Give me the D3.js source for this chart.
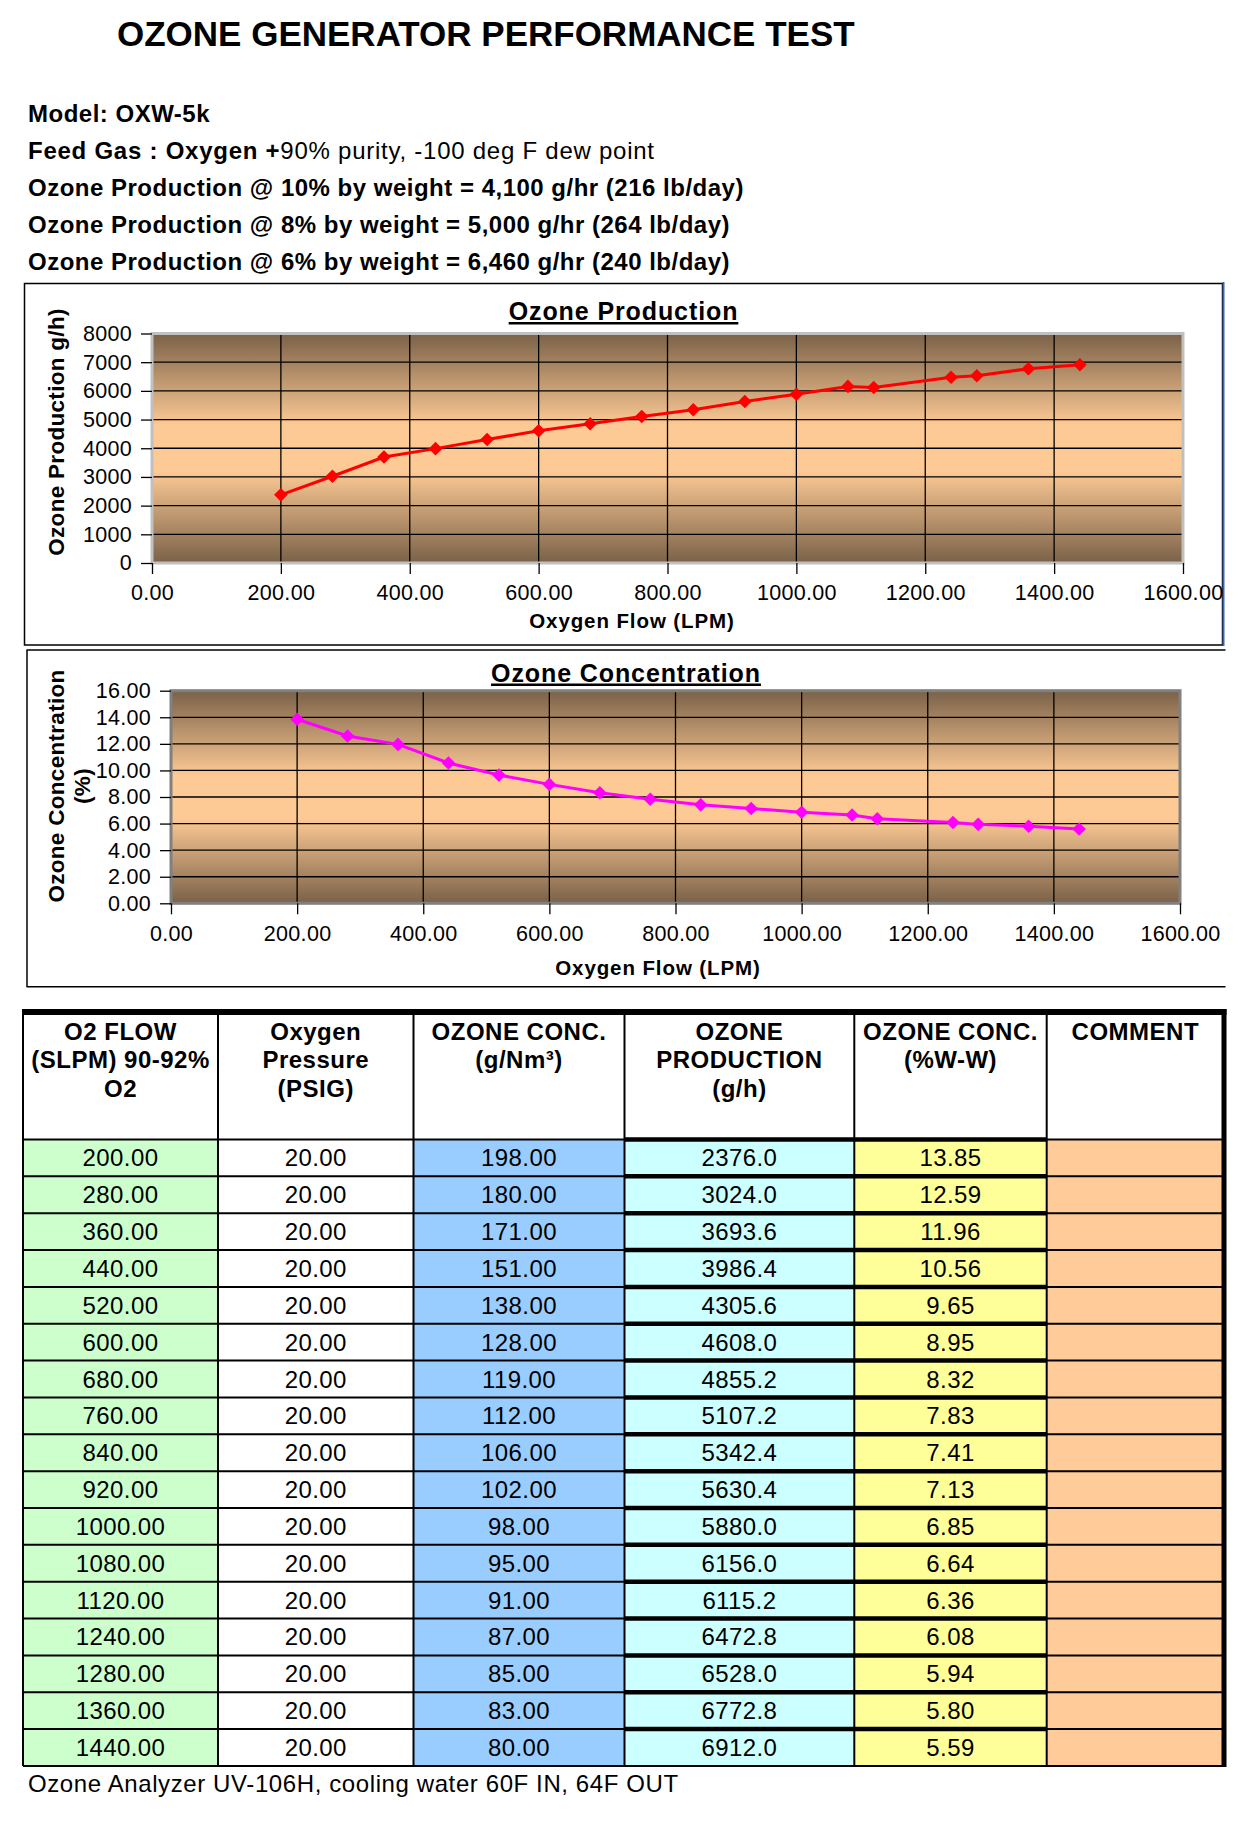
<!DOCTYPE html>
<html><head><meta charset="utf-8">
<script src="https://cdn.jsdelivr.net/npm/d3@7"></script>
<style>
html,body{margin:0;padding:0;background:#fff;}
svg{display:block;}
text{font-family:"Liberation Sans",Arial,sans-serif;fill:#000;}
</style></head><body>
<svg id="c" width="1239" height="1831"></svg>
<script>
// ---------------- DATA ----------------
const mainTitle = "OZONE GENERATOR PERFORMANCE TEST";
const infoLines = [
  [["Model: OXW-5k", "bold"]],
  [["Feed Gas : Oxygen +", "bold"], ["90% purity, -100 deg F dew point", "normal"]],
  [["Ozone Production @ 10% by weight = 4,100 g/hr (216 lb/day)", "bold"]],
  [["Ozone Production @ 8% by weight = 5,000 g/hr (264 lb/day)", "bold"]],
  [["Ozone Production @ 6% by weight = 6,460 g/hr (240 lb/day)", "bold"]]
];
const footerText = "Ozone Analyzer UV-106H, cooling water 60F IN, 64F OUT";

const flow       = [200, 280, 360, 440, 520, 600, 680, 760, 840, 920, 1000, 1080, 1120, 1240, 1280, 1360, 1440];
const pressure   = [20, 20, 20, 20, 20, 20, 20, 20, 20, 20, 20, 20, 20, 20, 20, 20, 20];
const concGNm3   = [198, 180, 171, 151, 138, 128, 119, 112, 106, 102, 98, 95, 91, 87, 85, 83, 80];
const production = [2376.0, 3024.0, 3693.6, 3986.4, 4305.6, 4608.0, 4855.2, 5107.2, 5342.4, 5630.4, 5880.0, 6156.0, 6115.2, 6472.8, 6528.0, 6772.8, 6912.0];
const concPct    = [13.85, 12.59, 11.96, 10.56, 9.65, 8.95, 8.32, 7.83, 7.41, 7.13, 6.85, 6.64, 6.36, 6.08, 5.94, 5.80, 5.59];
const comments   = ["", "", "", "", "", "", "", "", "", "", "", "", "", "", "", "", ""];

const xTicks     = [0, 200, 400, 600, 800, 1000, 1200, 1400, 1600];
const prodTicks  = [0, 1000, 2000, 3000, 4000, 5000, 6000, 7000, 8000];
const pctTicks   = [0, 2, 4, 6, 8, 10, 12, 14, 16];

const chart1Title = "Ozone Production";
const chart1YTitle = ["Ozone Production g/h)"];
const chart2Title = "Ozone Concentration";
const chart2YTitle = ["Ozone Concentration", "(%)"];
const xTitle = "Oxygen Flow (LPM)";

const tableHeaders = [
  ["O2 FLOW", "(SLPM) 90-92%", "O2"],
  ["Oxygen", "Pressure", "(PSIG)"],
  ["OZONE CONC.", "(g/Nm³)"],
  ["OZONE", "PRODUCTION", "(g/h)"],
  ["OZONE CONC.", "(%W-W)"],
  ["COMMENT"]
];

// ---------------- DRAW ----------------
const svg = d3.select("#c");
svg.append("rect").attr("width", 1239).attr("height", 1831).attr("fill", "#fff");
const defs = svg.append("defs");
const grad = defs.append("linearGradient").attr("id", "plotbg")
  .attr("x1", 0).attr("y1", 0).attr("x2", 0).attr("y2", 1);
[[0, "#7a6148"], [0.4, "#fdca95"], [0.6, "#fdca95"], [1, "#7a6148"]]
  .forEach(([o, c]) => grad.append("stop").attr("offset", o).attr("stop-color", c));

// Title
svg.append("text").attr("x", 117).attr("y", 46)
  .attr("font-size", 35).attr("font-weight", "bold").text(mainTitle);

// Info lines
infoLines.forEach((parts, i) => {
  const t = svg.append("text").attr("x", 28).attr("y", 121.5 + 37 * i)
    .attr("font-size", 24).attr("letter-spacing", i === 1 ? 0.75 : 0.5);
  parts.forEach(([s, w]) => t.append("tspan").attr("font-weight", w).text(s));
});

// Chart boxes
svg.append("rect").attr("x", 24.5).attr("y", 283.5).attr("width", 1198).attr("height", 361.5)
  .attr("fill", "none").attr("stroke", "#000").attr("stroke-width", 1.5);
svg.append("line").attr("x1", 1223.5).attr("x2", 1223.5).attr("y1", 282).attr("y2", 646)
  .attr("stroke", "#3b64b0").attr("stroke-width", 2);
[650, 986.7].forEach(yy => svg.append("line").attr("x1", 26.5).attr("x2", 1225.5)
  .attr("y1", yy).attr("y2", yy).attr("stroke", "#000").attr("stroke-width", 1.5));
svg.append("line").attr("x1", 27).attr("x2", 27).attr("y1", 650).attr("y2", 986.7)
  .attr("stroke", "#000").attr("stroke-width", 1.5);

function drawChart(o) {
  const x = d3.scaleLinear().domain([0, 1600]).range([o.x0, o.x1]);
  const y = d3.scaleLinear().domain([0, o.ymax]).range([o.y0, o.y1]);
  const g = svg.append("g");
  g.append("rect").attr("x", o.x0).attr("y", o.y1)
    .attr("width", o.x1 - o.x0).attr("height", o.y0 - o.y1).attr("fill", "url(#plotbg)");
  g.selectAll(null).data(o.yTicks.filter(v => v > 0 && v < o.ymax)).join("line")
    .attr("x1", o.x0).attr("x2", o.x1).attr("y1", d => y(d)).attr("y2", d => y(d))
    .attr("stroke", "#000").attr("stroke-width", 1.3);
  g.selectAll(null).data(xTicks.filter(v => v > 0 && v < 1600)).join("line")
    .attr("y1", o.y0).attr("y2", o.y1).attr("x1", d => x(d)).attr("x2", d => x(d))
    .attr("stroke", "#000").attr("stroke-width", 1.3);
  g.append("rect").attr("x", o.x0).attr("y", o.y1)
    .attr("width", o.x1 - o.x0).attr("height", o.y0 - o.y1)
    .attr("fill", "none").attr("stroke", o.border).attr("stroke-width", 3);

  const gx = g.append("g").attr("transform", `translate(0,${o.y0})`)
    .call(d3.axisBottom(x).tickValues(xTicks).tickFormat(d3.format(".2f"))
      .tickSize(11).tickPadding(11).tickSizeOuter(0));
  gx.select(".domain").remove();
  gx.selectAll("line").attr("stroke", "#000").attr("stroke-width", 1.3);
  gx.selectAll("text").attr("font-size", 21.5).attr("letter-spacing", 0.3).style("fill", "#000");

  const gy = g.append("g").attr("transform", `translate(${o.x0},0)`)
    .call(d3.axisLeft(y).tickValues(o.yTicks).tickFormat(o.yFmt)
      .tickSize(11).tickPadding(9).tickSizeOuter(0));
  gy.select(".domain").remove();
  gy.selectAll("line").attr("stroke", "#000").attr("stroke-width", 1.3);
  gy.selectAll("text").attr("font-size", 21.5).attr("letter-spacing", 0.3).style("fill", "#000");

  const pts = flow.map((f, i) => [f, o.values[i]]);
  g.append("path").datum(pts)
    .attr("d", d3.line().x(d => x(d[0])).y(d => y(d[1])))
    .attr("fill", "none").attr("stroke", o.color).attr("stroke-width", 3);
  g.selectAll(null).data(pts).join("path")
    .attr("d", d => {
      const cx = x(d[0]), cy = y(d[1]), r = 6.8;
      return `M${cx},${cy - r}L${cx + r},${cy}L${cx},${cy + r}L${cx - r},${cy}Z`;
    })
    .attr("fill", o.color);

  // titles
  g.append("text").attr("x", o.titleX).attr("y", o.titleY).attr("text-anchor", "middle")
    .attr("font-size", 25).attr("font-weight", "bold").attr("letter-spacing", 0.9)
    .style("text-decoration", "underline").text(o.title);
  g.append("text").attr("x", o.xtX).attr("y", o.xtY).attr("text-anchor", "middle")
    .attr("font-size", 20.5).attr("font-weight", "bold").attr("letter-spacing", 0.9).text(xTitle);
  const yt = g.append("g").attr("transform", `translate(${o.ytX},${o.ytY}) rotate(-90)`);
  o.yTitle.forEach((s, i) => yt.append("text").attr("x", 0).attr("y", i * 26)
    .attr("text-anchor", "middle").attr("font-size", 22.5).attr("font-weight", "bold")
    .attr("letter-spacing", 0.3).text(s));
}

drawChart({
  x0: 152, x1: 1183, y0: 563, y1: 333.5, ymax: 8000, yTicks: prodTicks, yFmt: d3.format("d"),
  values: production, color: "#ff0000", border: "#c0c0c0",
  title: chart1Title, titleX: 623.5, titleY: 320, xtX: 632, xtY: 628,
  yTitle: chart1YTitle, ytX: 64, ytY: 432
});
drawChart({
  x0: 171, x1: 1180, y0: 903.3, y1: 690.7, ymax: 16, yTicks: pctTicks, yFmt: d3.format(".2f"),
  values: concPct, color: "#ff00ff", border: "#808080",
  title: chart2Title, titleX: 626, titleY: 681.5, xtX: 658, xtY: 975,
  yTitle: chart2YTitle, ytX: 64, ytY: 786
});

// ---------------- TABLE ----------------
const colX = [23, 218, 413.5, 624.5, 854.3, 1046.7, 1224];
const colFill = ["#ccffcc", "#ffffff", "#99ccff", "#ccffff", "#ffff99", "#ffcc99"];
const headTop = 1012, headBot = 1139.5, rowH = 36.85;
const f2 = d3.format(".2f"), f1 = d3.format(".1f");
const columns = [flow.map(f2), pressure.map(f2), concGNm3.map(f2), production.map(f1), concPct.map(f2), comments];
const rowY = d3.scaleBand().domain(d3.range(flow.length))
  .range([headBot, headBot + flow.length * rowH]).padding(0);
const tableBottom = headBot + flow.length * rowH;
const tg = svg.append("g");

tg.append("rect").attr("x", colX[0]).attr("y", headTop).attr("width", colX[6] - colX[0])
  .attr("height", headBot - headTop).attr("fill", "#fff");
columns.forEach((col, j) => {
  tg.selectAll(null).data(col).join("rect")
    .attr("x", colX[j]).attr("y", (d, i) => rowY(i))
    .attr("width", colX[j + 1] - colX[j]).attr("height", rowY.bandwidth())
    .attr("fill", colFill[j]);
  tg.selectAll(null).data(col).join("text")
    .attr("x", (colX[j] + colX[j + 1]) / 2).attr("y", (d, i) => rowY(i) + rowH / 2 + 8.5)
    .attr("text-anchor", "middle").attr("font-size", 24).attr("letter-spacing", 0.4)
    .text(d => d);
});
tableHeaders.forEach((lines, j) => {
  lines.forEach((s, k) => tg.append("text")
    .attr("x", (colX[j] + colX[j + 1]) / 2).attr("y", 1040 + k * 28.3)
    .attr("text-anchor", "middle").attr("font-size", 24).attr("font-weight", "bold")
    .attr("letter-spacing", 0.5).text(s));
});
d3.range(flow.length + 1).forEach(k => {
  const yy = headBot + k * rowH;
  tg.append("line").attr("x1", colX[0]).attr("x2", colX[6]).attr("y1", yy).attr("y2", yy)
    .attr("stroke", "#000").attr("stroke-width", 2);
  if (k < flow.length) {
    tg.append("line").attr("x1", colX[3]).attr("x2", colX[5]).attr("y1", yy).attr("y2", yy)
      .attr("stroke", "#000").attr("stroke-width", 4.5);
  }
});
colX.slice(0, 6).forEach(xx => tg.append("line").attr("x1", xx).attr("x2", xx)
  .attr("y1", headTop).attr("y2", tableBottom).attr("stroke", "#000").attr("stroke-width", 2));
tg.append("line").attr("x1", colX[6]).attr("x2", colX[6]).attr("y1", headTop - 3).attr("y2", tableBottom + 1)
  .attr("stroke", "#000").attr("stroke-width", 5);
tg.append("line").attr("x1", colX[0] - 1).attr("x2", colX[6] + 2.5).attr("y1", headTop).attr("y2", headTop)
  .attr("stroke", "#000").attr("stroke-width", 6);

// footer
svg.append("text").attr("x", 28).attr("y", 1792).attr("font-size", 24).attr("letter-spacing", 0.6)
  .text(footerText);
</script>
</body></html>
